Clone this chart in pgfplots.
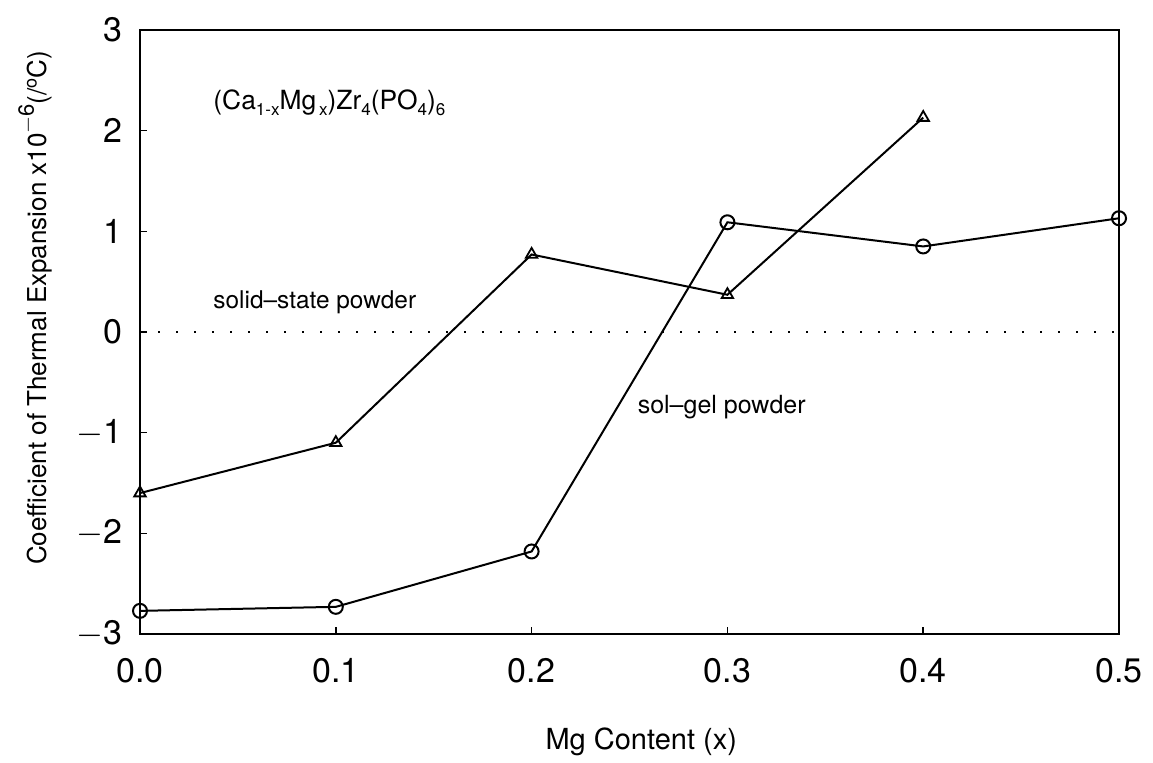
\documentclass[border=0pt]{standalone}
\usepackage{pgfplots}
\pgfplotsset{compat=1.18}
\usepackage{fontspec}
\setmainfont{TeX Gyre Heros}
\newcommand{\sub}[1]{\raisebox{-0.45ex}{\fontsize{8.5}{9}\selectfont #1}}
\begin{document}
\begin{tikzpicture}
\begin{axis}[
  scale only axis,
  width=489.5pt, height=302pt,
  xmin=0, xmax=0.5, ymin=-3, ymax=3,
  xtick={0,0.1,0.2,0.3,0.4,0.5},
  xticklabels={0.0,0.1,0.2,0.3,0.4,0.5},
  ytick={-3,-2,-1,0,1,2,3},
  yticklabels={$-$3,$-$2,$-$1,0,1,2,3},
  xtick pos=bottom, ytick pos=left,
  tick align=inside,
  major tick length=3.5pt,
  tick style={black, line width=0.8pt},
  axis line style={line width=1pt},
  ticklabel style={font=\fontsize{17}{19}\selectfont},
  xticklabel style={yshift=-8.5pt},
  yticklabel style={xshift=-5.5pt},
  xlabel={Mg Content (x)},
  ylabel={Coefficient of Thermal Expansion x10\raisebox{0.9ex}{\fontsize{11}{12}\selectfont $-$6}(/\raisebox{0.7ex}{\fontsize{9}{10}\selectfont o}C)},
  xlabel style={font=\fontsize{14.5}{16}\selectfont, at={(rel axis cs:0.512,-0.178)}, anchor=center},
  ylabel style={font=\fontsize{13}{15}\selectfont, at={(rel axis cs:-0.1073,0.54)}, anchor=center, rotate=0},
  clip=false,
]
\addplot[black, line width=1pt, dash pattern=on 1pt off 8pt, forget plot] coordinates {(0,0) (0.5,0)};
\addplot[black, line width=1pt, mark=o, mark size=3.5pt, mark options={solid, line width=1pt}] coordinates {
(0.0,-2.77) (0.1,-2.73) (0.2,-2.18) (0.3,1.09) (0.4,0.85) (0.5,1.13)};
\addplot[black, line width=1pt, mark=triangle, mark size=3.3pt, mark options={solid, line width=0.9pt}] coordinates {
(0.0,-1.60) (0.1,-1.10) (0.2,0.77) (0.3,0.37) (0.4,2.13)};
\node[anchor=west, inner sep=0pt, font=\fontsize{13.2}{15}\selectfont] at (axis cs:0.0373,2.275) {(Ca\sub{1-x}Mg\sub{\,x})Zr\sub{4}(PO\sub{4})\sub{6}};
\node[anchor=west, inner sep=0pt, font=\fontsize{12.2}{14}\selectfont] at (axis cs:0.0373,0.30) {solid--state powder};
\node[anchor=west, inner sep=0pt, font=\fontsize{12.5}{14}\selectfont] at (axis cs:0.254,-0.75) {sol--gel powder};
\coordinate (bbA) at (rel axis cs:-0.1430,-0.2119);
\coordinate (bbB) at (rel axis cs:1.0347,1.0497);
\end{axis}
\pgfresetboundingbox
\path[use as bounding box] (bbA) rectangle (bbB);
\end{tikzpicture}
\end{document}
